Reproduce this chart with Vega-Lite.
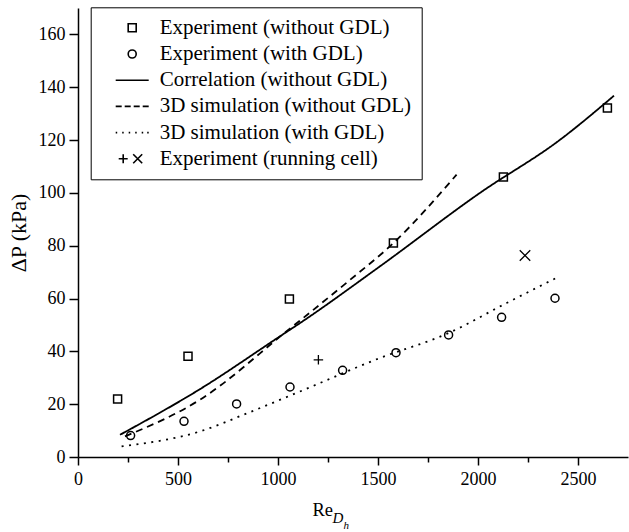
{
  "$schema": "https://vega.github.io/schema/vega-lite/v6.json",
  "width": 550,
  "height": 449,
  "autosize": "none",
  "padding": {"left": 78, "top": 8, "right": 1, "bottom": 75},
  "background": "white",
  "config": {
    "view": {"stroke": null},
    "font": "Liberation Serif",
    "axis": {
      "domainColor": "black", "domainWidth": 1.5, "tickColor": "black", "tickWidth": 1.5,
      "labelColor": "black", "labelFont": "Liberation Serif", "labelFontSize": 18,
      "titleFont": "Liberation Serif", "titleColor": "black", "titleFontWeight": "normal", "grid": false
    }
  },
  "data": {
    "values": [
      {"series": "Experiment (without GDL)", "x": 198, "y": 22},
      {"series": "Experiment (without GDL)", "x": 550, "y": 38.1},
      {"series": "Experiment (without GDL)", "x": 1057, "y": 59.8},
      {"series": "Experiment (without GDL)", "x": 1577, "y": 81},
      {"series": "Experiment (without GDL)", "x": 2127, "y": 106},
      {"series": "Experiment (without GDL)", "x": 2647, "y": 132.1},
      {"series": "Experiment (with GDL)", "x": 263, "y": 8.1},
      {"series": "Experiment (with GDL)", "x": 530, "y": 13.5},
      {"series": "Experiment (with GDL)", "x": 793, "y": 20.1},
      {"series": "Experiment (with GDL)", "x": 1060, "y": 26.5},
      {"series": "Experiment (with GDL)", "x": 1323, "y": 32.8},
      {"series": "Experiment (with GDL)", "x": 1590, "y": 39.5},
      {"series": "Experiment (with GDL)", "x": 1853, "y": 46.2},
      {"series": "Experiment (with GDL)", "x": 2118, "y": 52.9},
      {"series": "Experiment (with GDL)", "x": 2385, "y": 60.1},
      {"series": "Experiment (running cell)", "run": 1, "x": 1202, "y": 36.8},
      {"series": "Experiment (running cell)", "run": 2, "x": 2235, "y": 76.3},
      {"series": "Correlation (without GDL)", "x": 210, "y": 8.4},
      {"series": "Correlation (without GDL)", "x": 610, "y": 25.7},
      {"series": "Correlation (without GDL)", "x": 1010, "y": 45.7},
      {"series": "Correlation (without GDL)", "x": 1110, "y": 50.7},
      {"series": "Correlation (without GDL)", "x": 1510, "y": 72.2},
      {"series": "Correlation (without GDL)", "x": 2010, "y": 100},
      {"series": "Correlation (without GDL)", "x": 2410, "y": 120.1},
      {"series": "Correlation (without GDL)", "x": 2680, "y": 136.8},
      {"series": "3D simulation (without GDL)", "x": 235, "y": 7.8},
      {"series": "3D simulation (without GDL)", "x": 610, "y": 21.7},
      {"series": "3D simulation (without GDL)", "x": 1043, "y": 47.6},
      {"series": "3D simulation (without GDL)", "x": 1343, "y": 66},
      {"series": "3D simulation (without GDL)", "x": 1577, "y": 81},
      {"series": "3D simulation (without GDL)", "x": 1893, "y": 106.9},
      {"series": "3D simulation (with GDL)", "x": 218, "y": 4.0},
      {"series": "3D simulation (with GDL)", "x": 610, "y": 9.7},
      {"series": "3D simulation (with GDL)", "x": 860, "y": 17.0},
      {"series": "3D simulation (with GDL)", "x": 1110, "y": 24.8},
      {"series": "3D simulation (with GDL)", "x": 1510, "y": 37.5},
      {"series": "3D simulation (with GDL)", "x": 1843, "y": 46.6},
      {"series": "3D simulation (with GDL)", "x": 2143, "y": 58.3},
      {"series": "3D simulation (with GDL)", "x": 2397, "y": 68}
    ]
  },
  "resolve": {"axis": {"x": "independent"}},
  "layer": [
    {
      "transform": [{"filter": "datum.series === 'Correlation (without GDL)' || datum.series === '3D simulation (without GDL)' || datum.series === '3D simulation (with GDL)'"}],
      "mark": {"type": "line", "color": "black", "strokeWidth": 1.8, "interpolate": "monotone"},
      "encoding": {
        "x": {"field": "x", "type": "quantitative", "scale": {"domain": [0, 2750], "nice": false},
          "axis": {"orient": "bottom", "domain": false, "ticks": false, "labels": false, "title": "D", "titleFont": "Liberation Serif", "titleFontStyle": "italic", "titleFontSize": 15, "titleX": 254, "titleY": 65.7, "titleAlign": "left", "titleBaseline": "alphabetic"}},
        "y": {"field": "y", "type": "quantitative", "scale": {"domain": [0, 170], "nice": false}},
        "strokeDash": {"field": "series", "type": "nominal",
          "scale": {"domain": ["Correlation (without GDL)", "3D simulation (without GDL)", "3D simulation (with GDL)"], "range": [[1, 0], [7, 5], [2, 5.5]]},
          "legend": null}
      }
    },
    {
      "transform": [{"filter": "datum.series === 'Experiment (without GDL)' || datum.series === 'Experiment (with GDL)'"}],
      "mark": {"type": "point", "filled": false, "color": "black", "strokeWidth": 1.5, "size": 100, "opacity": 1},
      "encoding": {
        "x": {"field": "x", "type": "quantitative", "scale": {"domain": [0, 2750], "nice": false},
          "axis": {"orient": "bottom", "values": [0, 250, 500, 750, 1000, 1250, 1500, 1750, 2000, 2250, 2500], "format": "d",
            "labelExpr": "datum.value % 500 === 0 ? datum.label : ''",
            "tickSize": {"condition": {"test": "datum.value % 500 === 0", "value": 8}, "value": 5},
            "labelFont": "Liberation Serif", "labelFontSize": 18,
            "labelPadding": 5, "labelFlush": false, "labelOverlap": false,
            "title": "Re", "titleFont": "Liberation Serif", "titleFontSize": 18.5, "titleX": 234, "titleY": 58, "titleAlign": "left", "titleBaseline": "alphabetic"}},
        "y": {"field": "y", "type": "quantitative", "scale": {"domain": [0, 170], "nice": false},
          "axis": {"values": [0, 10, 20, 30, 40, 50, 60, 70, 80, 90, 100, 110, 120, 130, 140, 150, 160, 170], "format": "d",
            "labelExpr": "datum.value % 20 === 0 && datum.value < 170 ? datum.label : ''",
            "tickSize": {"condition": {"test": "datum.value % 20 === 0", "value": 9}, "value": 5},
            "labelFont": "Liberation Serif", "labelFontSize": 18,
            "labelPadding": 4, "labelFlush": false, "labelOverlap": false,
            "title": "ΔP (kPa)", "titleFont": "Liberation Serif", "titleFontSize": 22, "titleX": -60, "titleY": 224.5, "titleAngle": 270, "titleAlign": "center", "titleBaseline": "middle"}},
        "shape": {"field": "series", "type": "nominal",
          "scale": {
            "domain": ["Experiment (without GDL)", "Experiment (with GDL)", "Correlation (without GDL)", "3D simulation (without GDL)", "3D simulation (with GDL)", "Experiment (running cell)"],
            "range": [
              "M-0.8,-0.8H0.8V0.8H-0.8Z",
              "M0.8,0A0.8,0.8,0,1,1,-0.8,0A0.8,0.8,0,1,1,0.8,0Z",
              "M-3.3,0H3.3",
              "M-3.3,0H-2.1M-1.5,0H-0.3M0.3,0H1.5M2.1,0H3.3",
              "M-3.3,0H-3M-2,0H-1.7M-0.7,0H-0.4M0.6,0H0.9M1.9,0H2.2M3,0H3.3",
              "M-2.7,0H-0.9M-1.8,-0.9V0.9M0.2,-0.9L2,0.9M0.2,0.9L2,-0.9"
            ]},
          "legend": {"orient": "none", "legendX": 12.7, "legendY": -0.7, "title": null,
            "strokeColor": "black", "fillColor": "white", "padding": 10, "cornerRadius": 0,
            "labelFont": "Liberation Serif", "labelFontSize": 21, "labelColor": "black", "labelLimit": 0,
            "labelExpr": "datum.label + '\u2002'",
            "symbolSize": 100, "symbolStrokeColor": "black", "symbolStrokeWidth": 1.6, "symbolFillColor": "transparent",
            "symbolOffset": 21, "labelOffset": 17, "rowPadding": 4.2}}
      }
    },
    {
      "transform": [{"filter": "datum.run === 1"}],
      "mark": {"type": "point", "shape": "M-1,0H1M0,-1V1", "filled": false, "color": "black", "strokeWidth": 1.3, "size": 90, "opacity": 1},
      "encoding": {
        "x": {"field": "x", "type": "quantitative", "scale": {"domain": [0, 2750], "nice": false},
          "axis": {"orient": "bottom", "domain": false, "ticks": false, "labels": false, "title": "h", "titleFont": "Liberation Serif", "titleFontStyle": "italic", "titleFontSize": 11, "titleX": 265, "titleY": 71, "titleAlign": "left", "titleBaseline": "alphabetic"}},
        "y": {"field": "y", "type": "quantitative", "scale": {"domain": [0, 170], "nice": false}}
      }
    },
    {
      "transform": [{"filter": "datum.run === 2"}],
      "mark": {"type": "point", "shape": "M-1,-1L1,1M-1,1L1,-1", "filled": false, "color": "black", "strokeWidth": 1.3, "size": 110, "opacity": 1},
      "encoding": {
        "x": {"field": "x", "type": "quantitative", "scale": {"domain": [0, 2750], "nice": false}, "axis": null},
        "y": {"field": "y", "type": "quantitative", "scale": {"domain": [0, 170], "nice": false}}
      }
    }
  ]
}
